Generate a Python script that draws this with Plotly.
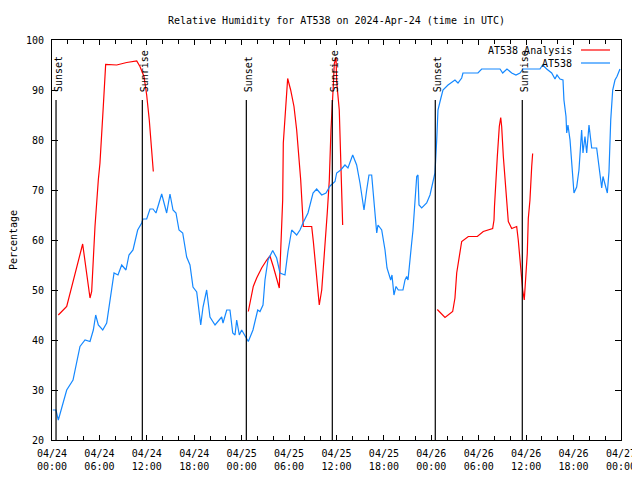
import plotly.graph_objects as go
from datetime import datetime, timedelta

START = datetime(2024, 4, 24, 0, 0)

# AT538 observed (hours since 2024-04-24 00:00 UTC, percent)
obs_hours = [0.1, 0.5, 0.8, 1.86, 2.66, 3.54, 4.18, 4.81, 5.23, 5.53, 5.86, 6.42, 6.92, 7.34, 7.85,
             8.35, 8.82, 9.36, 9.74, 10.25, 10.84, 11.35, 11.51, 11.98, 12.4, 12.78, 13.16, 13.88,
             14.51, 14.93, 15.31, 15.69, 16.07, 16.54, 17.04, 17.46, 17.84, 18.31, 18.82, 19.11,
             19.57, 19.99, 20.63, 21.47, 21.64, 22.11, 22.52, 22.87, 23.16, 23.37, 23.7, 24.0,
             24.64, 24.84, 25.43, 26.03, 26.32, 26.7, 26.95, 27.33, 27.93, 28.43, 28.85, 29.48,
             29.86, 30.33, 30.96, 31.38, 31.76, 32.39, 33.03, 33.49, 34.13, 34.67, 35.18, 35.81,
             36.02, 36.53, 37.07, 37.45, 38.05, 38.55, 38.97, 39.31, 39.48, 39.82, 40.11, 40.45,
             40.74, 40.87, 41.09, 41.25, 41.72, 42.14, 42.39, 42.86, 43.02, 43.27, 43.53, 43.82,
             44.41, 44.67, 44.88, 45.05, 45.3, 45.51, 45.68, 45.93, 46.15, 46.31, 46.44, 46.78,
             47.41, 47.83, 48.21, 48.46, 48.68, 48.84, 49.1, 49.47, 50.11, 50.74, 50.99, 51.37,
             51.84, 52.0, 53.9, 54.37, 56.69, 57.03, 57.57, 58.17, 58.71, 59.22, 59.6, 61.75,
             62.09, 62.6, 63.23, 63.65, 63.9, 64.28, 64.66, 64.78, 65.04, 65.13, 65.29, 65.55,
             65.76, 66.05, 66.39, 66.68, 67.02, 67.19, 67.44, 67.66, 67.95, 68.29, 68.92, 69.34,
             69.56, 69.72, 70.1, 70.27, 70.48, 70.7, 70.95, 71.24, 71.49, 71.87]
obs_values = [26, 26, 24, 30, 32, 38.7, 40, 39.7, 42, 45, 43, 42, 43.4, 48, 53.4,
              53, 55, 54, 57, 58, 62, 63.4, 64.2, 64.2, 66.2, 66.2, 65.4, 69.2,
              65.4, 69.2, 66, 65.4, 62, 61.4, 56.6, 55, 50.6, 49.6, 43, 46.6,
              50, 44.6, 43, 44.6, 43.4, 46, 46, 41.4, 41, 44, 41, 42,
              40, 39.7, 42, 46, 45.7, 47, 52, 56, 57.9, 56.4, 53.4, 53,
              57.7, 62, 61, 62, 63.4, 65.4, 69.4, 70.2, 69, 69.4, 70.8, 71.7,
              73.4, 74, 75, 74.4, 77, 75, 71.4, 67.7, 66, 70, 73, 73,
              68, 65.7, 61.4, 63, 62, 58, 54.4, 52, 53, 49, 50.7, 50,
              50, 52, 52.7, 52, 56.7, 59.4, 62, 68, 72.7, 73, 67, 66.4,
              67.4, 69, 71.4, 73.4, 80, 86, 87.7, 90, 91, 91.7, 92, 91.4,
              92.4, 93.4, 93.4, 94.2, 94.2, 93.4, 94.2, 93.4, 93, 93.4, 94.2, 94.2,
              95, 94.2, 93.4, 92.2, 93, 92.2, 92, 88, 84.7, 81.4, 83, 80,
              74.7, 69.4, 70.6, 74, 82, 77.4, 80.7, 77.4, 83, 78.4, 78.4, 72.7,
              70.4, 72.7, 70.6, 69.4, 73.7, 84, 90, 92, 92.7, 94.2]

# AT538 Analysis (three separate runs)
ana1_hours = [0.8, 1.86, 3.88, 4.81, 5.02, 5.44, 5.86, 6.07, 6.49, 6.79, 8.19, 9.45, 10.72,
              11.13, 11.64, 11.98, 12.31, 12.62, 12.82]
ana1_values = [45, 46.7, 59.2, 48.4, 49.7, 62.7, 72, 75.4, 86.7, 95.1, 95, 95.5, 95.8,
               94.7, 92.7, 89, 84, 77.4, 73.7]
ana2_hours = [24.84, 25.47, 25.9, 26.53, 27.17, 27.58, 28.0, 28.43, 28.76, 28.94, 29.19, 29.27,
              29.82, 30.2, 30.62, 30.96, 31.29, 31.47, 31.8, 32.86, 33.07, 33.49, 33.82, 34.13,
              34.54, 34.83, 35.09, 35.3, 35.59, 35.72, 35.94, 36.02, 36.35, 36.53, 36.66, 36.78]
ana2_values = [45.7, 50.7, 52.4, 54.4, 56, 56.8, 54.7, 52, 50.4, 58, 68, 79.4,
               92.3, 90, 86.7, 82, 76, 72, 62.7, 62.7, 59.7, 52, 47, 50,
               58, 65.4, 72, 82, 90.7, 95.3, 96.5, 91.7, 86, 75.4, 68.7, 63]
ana3_hours = [48.75, 49.73, 50.7, 50.99, 51.21, 51.54, 51.84, 52.68, 53.82, 54.57, 55.21, 55.76,
              55.93, 55.99, 56.35, 56.6, 56.78, 56.9, 57.11, 57.41, 57.61, 57.74, 58.17, 58.8,
              59.0, 59.22, 59.43, 59.56, 59.76, 59.98, 60.14, 60.27, 60.48, 60.7, 60.82]
ana3_values = [46.1, 44.5, 45.7, 48.4, 53.4, 56.7, 59.7, 60.7, 60.7, 61.7, 62.1, 62.3,
               64, 66.7, 76.7, 82.7, 84.5, 82.7, 76.7, 71.3, 66.7, 63.7, 62.3, 62.7,
               60, 56, 52.7, 50, 48, 52.7, 57.3, 64.3, 68, 74.7, 77.3]

# Sun events (hours since start)
sun_hours = [0.51, 11.43, 24.59, 35.47, 48.5, 59.51]
sun_labels = ["Sunset", "Sunrise", "Sunset", "Sunrise", "Sunset", "Sunrise"]
sun_line_top = 88

tick_hours = list(range(0, 73, 6))

def t(h):
    return START + timedelta(hours=h)

ana_x, ana_y = [], []
for hs, vs in [(ana1_hours, ana1_values), (ana2_hours, ana2_values), (ana3_hours, ana3_values)]:
    ana_x += [t(h) for h in hs] + [None]
    ana_y += vs + [None]

FONT = "DejaVu Sans Mono"
RED = "#ff0000"
BLUE = "#1488ff"

W, H = 632, 472

fig = go.Figure()
fig.add_trace(go.Scatter(x=ana_x, y=ana_y, mode="lines", line=dict(color=RED, width=1.2),
                         connectgaps=False, name="AT538 Analysis", showlegend=False))
fig.add_trace(go.Scatter(x=[t(h) for h in obs_hours], y=obs_values, mode="lines",
                         line=dict(color=BLUE, width=1.2), name="AT538", showlegend=False))

shapes = []
annotations = []
for h, lab in zip(sun_hours, sun_labels):
    shapes.append(dict(type="line", xref="x", yref="y", x0=t(h), x1=t(h), y0=20, y1=sun_line_top,
                       line=dict(color="black", width=1.2)))
    annotations.append(dict(x=t(h), y=sun_line_top + 1.2, xref="x", yref="y", text=lab,
                            textangle=-90, showarrow=False, xanchor="center", yanchor="bottom",
                            xshift=2, font=dict(family=FONT, size=10, color="black")))

# gnuplot-style legend: text then line sample
for i, (name, col) in enumerate([("AT538 Analysis", RED), ("AT538", BLUE)]):
    ypix = 50 + 13 * i
    yp = 1 - (ypix - 40) / 400
    annotations.append(dict(x=(574 - 52) / 569, y=yp, xref="paper", yref="paper", text=name,
                            showarrow=False, xanchor="right", yanchor="middle",
                            font=dict(family=FONT, size=10, color="black")))
    shapes.append(dict(type="line", xref="paper", yref="paper", x0=(581 - 52) / 569,
                       x1=(610 - 52) / 569, y0=yp, y1=yp, line=dict(color=col, width=1.2)))

fig.update_layout(
    width=W, height=H,
    margin=dict(l=44, r=19, t=32, b=40, autoexpand=False),
    paper_bgcolor="white", plot_bgcolor="white",
    title=dict(text="Relative Humidity for AT538 on 2024-Apr-24 (time in UTC)",
               x=(52 + 621) / 2 / 640 * 640 / W - 8 / W,
               xanchor="center", xref="container", yref="container", y=1 - 12 / H, yanchor="middle",
               font=dict(family=FONT, size=10, color="black"), automargin=False),
    font=dict(family=FONT, size=10, color="black"),
    shapes=shapes, annotations=annotations, showlegend=False,
)
fig.update_xaxes(
    range=[t(0), t(72)], type="date", automargin=False,
    tickvals=[t(h) for h in tick_hours],
    ticktext=[t(h).strftime("%m/%d<br>%H:%M") for h in tick_hours],
    ticks="inside", ticklen=5, tickcolor="black", tickwidth=1, ticklabelstandoff=4,
    minor=dict(dtick=2 * 3600 * 1000, ticks="inside", ticklen=4, tickcolor="black", showgrid=False),
    showline=True, linecolor="black", linewidth=1, mirror="ticks", showgrid=False, zeroline=False,
    tickfont=dict(family=FONT, size=10, color="black"),
)
fig.update_yaxes(
    range=[20, 100], tickvals=list(range(20, 101, 10)), automargin=False,
    ticks="inside", ticklen=6, tickcolor="black", ticklabelstandoff=5,
    showline=True, linecolor="black", linewidth=1, mirror="ticks", showgrid=False, zeroline=False,
    title=dict(text="Percentage", font=dict(family=FONT, size=10, color="black"), standoff=9),
    tickfont=dict(family=FONT, size=10, color="black"),
)

fig.write_html("out.html")
